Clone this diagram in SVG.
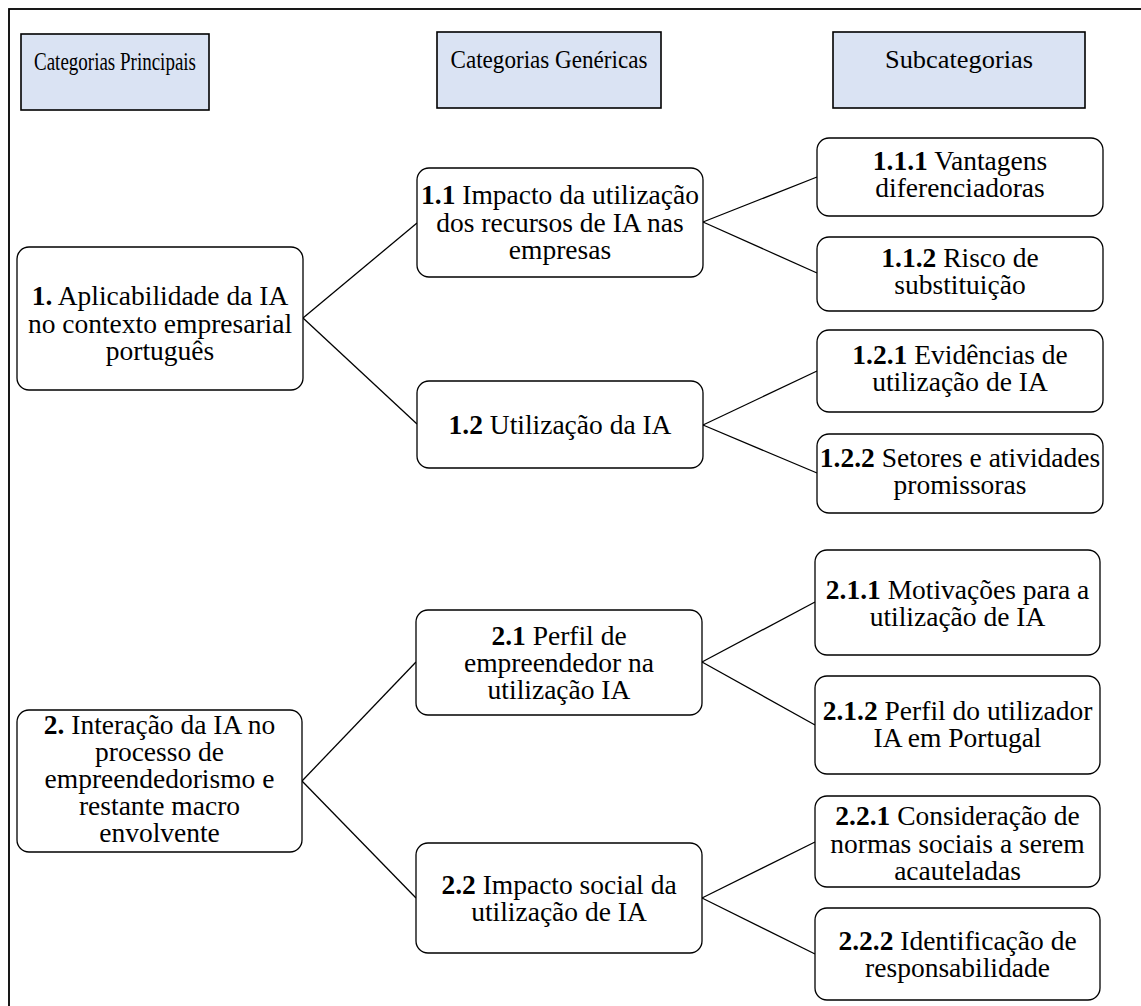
<svg xmlns="http://www.w3.org/2000/svg" width="1141" height="1006" viewBox="0 0 1141 1006">
<style>
text{font-family:"Liberation Serif","Times New Roman","DejaVu Serif",Times,serif;font-size:27.5px;fill:#000;text-anchor:middle}
.b{font-weight:bold}
.h{font-size:26px}
.hdr{fill:#dae3f3;stroke:#000;stroke-width:1.6}
.node{fill:#fff;stroke:#000;stroke-width:1.3}
.conn line{stroke:#000;stroke-width:1.3}
</style>
<rect width="1141" height="1006" fill="#fff"/>
<rect x="9" y="9" width="1200" height="1100" fill="none" stroke="#000" stroke-width="1.8"/>
<g id="hdr-principais"><rect class="hdr" x="21" y="34" width="188" height="76"/><text class="h" x="115" y="70" textLength="162" lengthAdjust="spacingAndGlyphs">Categorias Principais</text></g>
<g id="hdr-genericas"><rect class="hdr" x="437" y="32" width="224" height="76"/><text class="h" x="549" y="68" textLength="197" lengthAdjust="spacingAndGlyphs">Categorias Genéricas</text></g>
<g id="hdr-sub"><rect class="hdr" x="833" y="32" width="252" height="76"/><text class="h" x="959" y="68" textLength="148" lengthAdjust="spacingAndGlyphs">Subcategorias</text></g>
<g class="conn" id="connectors">
<line x1="303" y1="318" x2="417" y2="223"/>
<line x1="303" y1="318" x2="417" y2="424"/>
<line x1="703" y1="222" x2="817" y2="177"/>
<line x1="703" y1="222" x2="817" y2="273"/>
<line x1="703" y1="425" x2="817" y2="371"/>
<line x1="703" y1="425" x2="817" y2="473"/>
<line x1="302" y1="781" x2="416" y2="662"/>
<line x1="302" y1="781" x2="416" y2="898"/>
<line x1="702" y1="662" x2="815" y2="602"/>
<line x1="702" y1="662" x2="815" y2="725"/>
<line x1="702" y1="898" x2="815" y2="842"/>
<line x1="702" y1="898" x2="815" y2="954"/>
</g>
<g id="n1"><rect class="node" x="17" y="247" width="286" height="143" rx="12"/>
<text x="160" y="305"><tspan class="b">1.</tspan> Aplicabilidade da IA</text>
<text x="160" y="332.5">no contexto empresarial</text>
<text x="160" y="360">português</text></g>
<g id="n2"><rect class="node" x="17" y="710" width="285" height="142" rx="12"/>
<text x="159.5" y="733.5"><tspan class="b">2.</tspan> Interação da IA no</text>
<text x="159.5" y="760.5">processo de</text>
<text x="159.5" y="787.5">empreendedorismo e</text>
<text x="159.5" y="814.5">restante macro</text>
<text x="159.5" y="841.5">envolvente</text></g>
<g id="g11"><rect class="node" x="417" y="168" width="286" height="109" rx="12"/>
<text x="560" y="203.5"><tspan class="b">1.1</tspan> Impacto da utilização</text>
<text x="560" y="231.5">dos recursos de IA nas</text>
<text x="560" y="259">empresas</text></g>
<g id="g12"><rect class="node" x="417" y="381" width="286" height="87" rx="12"/>
<text x="560" y="433.5"><tspan class="b">1.2</tspan> Utilização da IA</text></g>
<g id="g21"><rect class="node" x="416" y="610" width="286" height="105" rx="12"/>
<text x="559" y="645"><tspan class="b">2.1</tspan> Perfil de</text>
<text x="559" y="672">empreendedor na</text>
<text x="559" y="699">utilização IA</text></g>
<g id="g22"><rect class="node" x="416" y="843" width="286" height="110" rx="12"/>
<text x="559" y="893.5"><tspan class="b">2.2</tspan> Impacto social da</text>
<text x="559" y="921">utilização de IA</text></g>
<g id="s111"><rect class="node" x="817" y="138" width="286" height="78" rx="12"/>
<text x="960" y="169.5"><tspan class="b">1.1.1</tspan> Vantagens</text>
<text x="960" y="196.5">diferenciadoras</text></g>
<g id="s112"><rect class="node" x="817" y="237" width="286" height="74" rx="12"/>
<text x="960" y="267"><tspan class="b">1.1.2</tspan> Risco de</text>
<text x="960" y="294">substituição</text></g>
<g id="s121"><rect class="node" x="817" y="330" width="286" height="82" rx="12"/>
<text x="960" y="364"><tspan class="b">1.2.1</tspan> Evidências de</text>
<text x="960" y="391">utilização de IA</text></g>
<g id="s122"><rect class="node" x="817" y="434" width="286" height="79" rx="12"/>
<text x="960" y="466.5"><tspan class="b">1.2.2</tspan> Setores e atividades</text>
<text x="960" y="493.5">promissoras</text></g>
<g id="s211"><rect class="node" x="815" y="550" width="285" height="105" rx="12"/>
<text x="957.5" y="599"><tspan class="b">2.1.1</tspan> Motivações para a</text>
<text x="957.5" y="626">utilização de IA</text></g>
<g id="s212"><rect class="node" x="815" y="676" width="285" height="98" rx="12"/>
<text x="957.5" y="719.5"><tspan class="b">2.1.2</tspan> Perfil do utilizador</text>
<text x="957.5" y="747">IA em Portugal</text></g>
<g id="s221"><rect class="node" x="815" y="796" width="285" height="91" rx="12"/>
<text x="957.5" y="825"><tspan class="b">2.2.1</tspan> Consideração de</text>
<text x="957.5" y="852.5">normas sociais a serem</text>
<text x="957.5" y="879.5">acauteladas</text></g>
<g id="s222"><rect class="node" x="815" y="908" width="285" height="92" rx="12"/>
<text x="957.5" y="950"><tspan class="b">2.2.2</tspan> Identificação de</text>
<text x="957.5" y="977">responsabilidade</text></g>
</svg>
